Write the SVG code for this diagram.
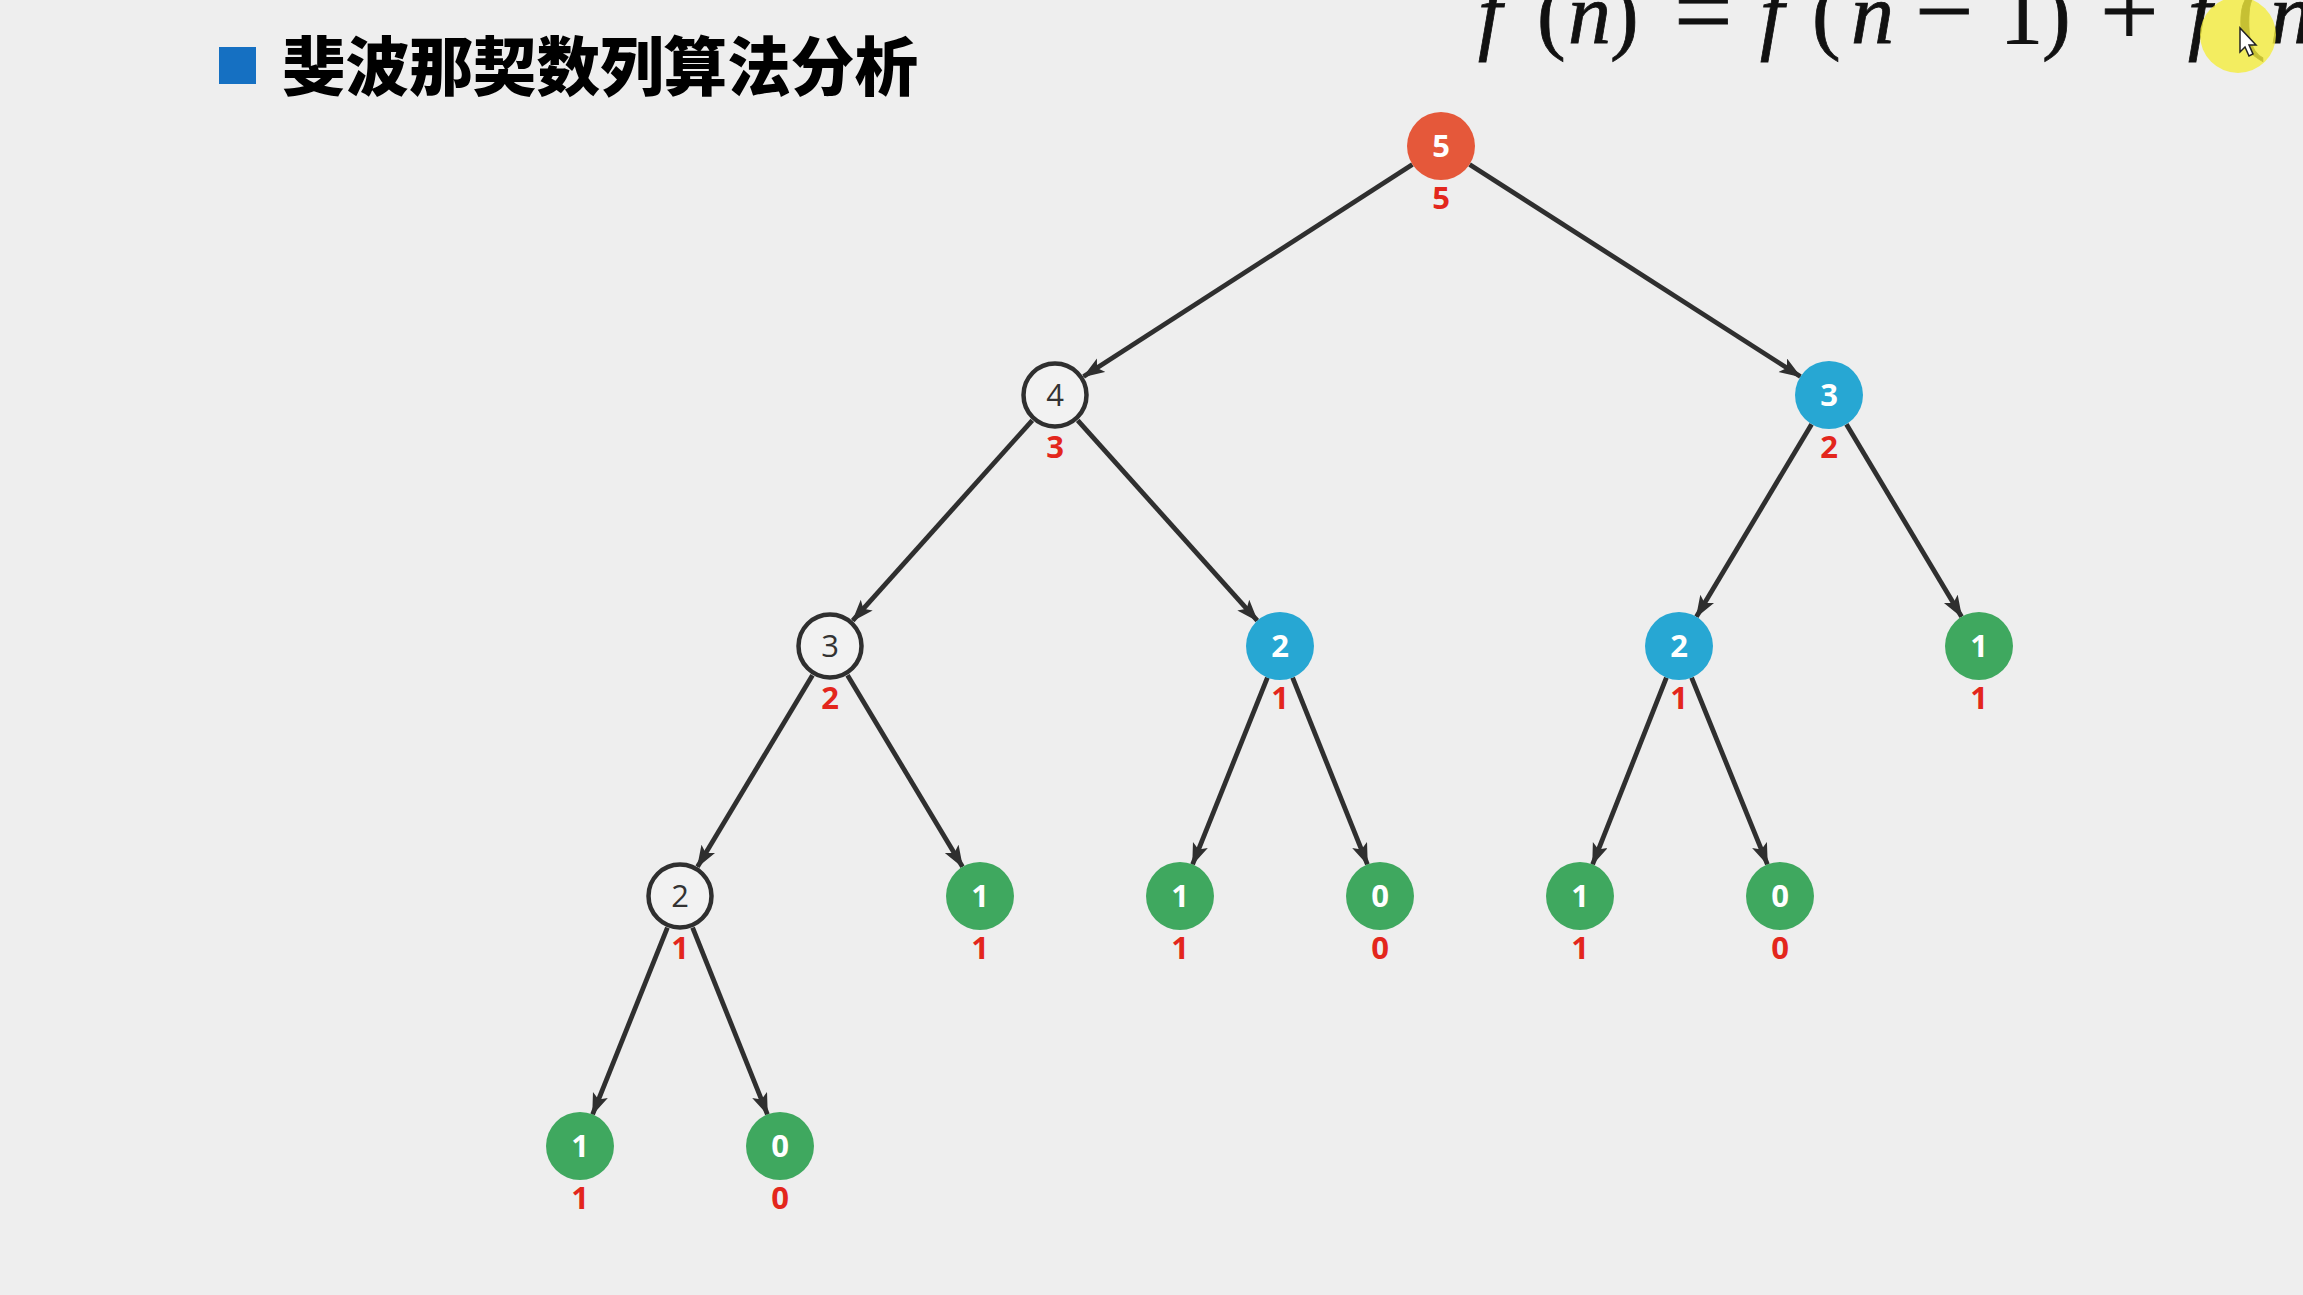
<svg xmlns="http://www.w3.org/2000/svg" width="2303" height="1295" viewBox="0 0 2303 1295">
<defs>
<marker id="ah" markerUnits="userSpaceOnUse" markerWidth="24" markerHeight="18" refX="21" refY="8" orient="auto">
<path d="M0,0 L22,8 L0,16 L5,8 z" fill="#2f2f2f"/>
</marker>
<style>
.edge{stroke:#2f2f2f;stroke-width:4.8;fill:none;marker-end:url(#ah)}
.red{fill:#E5583A}
.blue{fill:#27A7D3}
.green{fill:#3FA85F}
.out{fill:#F2F2F2;stroke:#2f2f2f;stroke-width:4.5}
.num{font-family:"Open Sans","Liberation Sans",sans-serif;font-size:31px;font-weight:700;fill:#ffffff;text-anchor:middle}
.numd{font-family:"Open Sans","Liberation Sans",sans-serif;font-size:31px;font-weight:400;fill:#333333;text-anchor:middle}
.lbl{font-family:"Open Sans","Liberation Sans",sans-serif;font-size:31px;font-weight:700;fill:#E3261C;text-anchor:middle}
.fm{font-family:"Liberation Serif",serif;font-size:86px;fill:#111111;stroke:#111111;stroke-width:0.8}
.it{font-style:italic}
.op{font-size:104px}
</style>
</defs>
<rect width="2303" height="1295" fill="#EEEEEE"/>

<g id="title">
<rect x="219" y="47" width="37" height="37" fill="#1570C2"/>
<text x="282" y="90" font-family="Noto Sans CJK SC, sans-serif" font-size="64" font-weight="900" fill="#000000" textLength="636" lengthAdjust="spacingAndGlyphs">斐波那契数列算法分析</text>
</g>

<g id="formula">
<text class="fm" y="43"><tspan class="it" x="1478">f</tspan><tspan x="1537">(</tspan><tspan class="it" x="1568">n</tspan><tspan x="1610">)</tspan><tspan class="op" x="1674" y="46">=</tspan><tspan class="it" x="1760" y="43">f</tspan><tspan x="1812">(</tspan><tspan class="it" x="1851">n</tspan><tspan class="op" x="1915" y="46">−</tspan><tspan x="2000" y="43">1</tspan><tspan x="2042">)</tspan><tspan class="op" x="2100" y="46">+</tspan><tspan class="it" x="2188" y="43">f</tspan><tspan x="2237">(</tspan><tspan class="it" x="2270">n</tspan></text>
</g>

<g id="cursor">
<circle cx="2238" cy="35" r="38" fill="#F4EC3C" opacity="0.8"/>
<path d="M2240,28 L2240,52 L2245,47 L2249,56 L2253,54 L2249,45 L2256,45 z" fill="#ffffff" stroke="#222222" stroke-width="1.5"/>
</g>

<g id="connectors">
<line class="edge" x1="1412.4" y1="164.4" x2="1083.6" y2="376.6"/>
<line class="edge" x1="1469.6" y1="164.4" x2="1800.4" y2="376.6"/>
<line class="edge" x1="1032.3" y1="420.3" x2="852.7" y2="620.7"/>
<line class="edge" x1="1077.7" y1="420.3" x2="1257.3" y2="620.7"/>
<line class="edge" x1="1811.6" y1="424.2" x2="1696.4" y2="616.8"/>
<line class="edge" x1="1846.4" y1="424.2" x2="1961.6" y2="616.8"/>
<line class="edge" x1="812.5" y1="675.2" x2="697.5" y2="866.8"/>
<line class="edge" x1="847.5" y1="675.2" x2="962.5" y2="866.8"/>
<line class="edge" x1="1267.4" y1="677.6" x2="1192.6" y2="864.4"/>
<line class="edge" x1="1292.6" y1="677.6" x2="1367.4" y2="864.4"/>
<line class="edge" x1="1666.4" y1="677.6" x2="1592.6" y2="864.4"/>
<line class="edge" x1="1691.6" y1="677.6" x2="1767.4" y2="864.4"/>
<line class="edge" x1="667.4" y1="927.6" x2="592.6" y2="1114.4"/>
<line class="edge" x1="692.6" y1="927.6" x2="767.4" y2="1114.4"/>
</g>

<g id="n_f5"><circle class="red" cx="1441" cy="146" r="34"/><text class="num" x="1441" y="157">5</text><text class="lbl" x="1441" y="209">5</text></g>
<g id="n_f4"><circle class="out" cx="1055" cy="395" r="31.5"/><text class="numd" x="1055" y="406">4</text><text class="lbl" x="1055" y="458">3</text></g>
<g id="n_f3r"><circle class="blue" cx="1829" cy="395" r="34"/><text class="num" x="1829" y="406">3</text><text class="lbl" x="1829" y="458">2</text></g>
<g id="n_f3l"><circle class="out" cx="830" cy="646" r="31.5"/><text class="numd" x="830" y="657">3</text><text class="lbl" x="830" y="709">2</text></g>
<g id="n_f2a"><circle class="blue" cx="1280" cy="646" r="34"/><text class="num" x="1280" y="657">2</text><text class="lbl" x="1280" y="709">1</text></g>
<g id="n_f2b"><circle class="blue" cx="1679" cy="646" r="34"/><text class="num" x="1679" y="657">2</text><text class="lbl" x="1679" y="709">1</text></g>
<g id="n_f1a"><circle class="green" cx="1979" cy="646" r="34"/><text class="num" x="1979" y="657">1</text><text class="lbl" x="1979" y="709">1</text></g>
<g id="n_f2c"><circle class="out" cx="680" cy="896" r="31.5"/><text class="numd" x="680" y="907">2</text><text class="lbl" x="680" y="959">1</text></g>
<g id="n_f1b"><circle class="green" cx="980" cy="896" r="34"/><text class="num" x="980" y="907">1</text><text class="lbl" x="980" y="959">1</text></g>
<g id="n_f1c"><circle class="green" cx="1180" cy="896" r="34"/><text class="num" x="1180" y="907">1</text><text class="lbl" x="1180" y="959">1</text></g>
<g id="n_f0a"><circle class="green" cx="1380" cy="896" r="34"/><text class="num" x="1380" y="907">0</text><text class="lbl" x="1380" y="959">0</text></g>
<g id="n_f1d"><circle class="green" cx="1580" cy="896" r="34"/><text class="num" x="1580" y="907">1</text><text class="lbl" x="1580" y="959">1</text></g>
<g id="n_f0b"><circle class="green" cx="1780" cy="896" r="34"/><text class="num" x="1780" y="907">0</text><text class="lbl" x="1780" y="959">0</text></g>
<g id="n_f1e"><circle class="green" cx="580" cy="1146" r="34"/><text class="num" x="580" y="1157">1</text><text class="lbl" x="580" y="1209">1</text></g>
<g id="n_f0c"><circle class="green" cx="780" cy="1146" r="34"/><text class="num" x="780" y="1157">0</text><text class="lbl" x="780" y="1209">0</text></g>
</svg>
